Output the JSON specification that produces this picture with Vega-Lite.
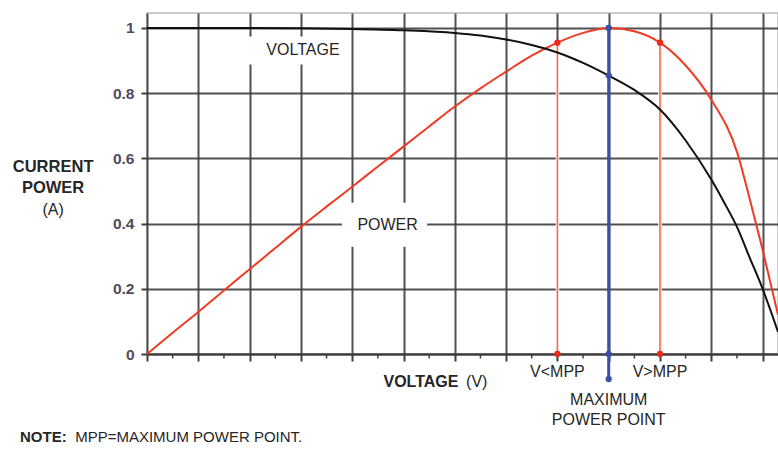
{
  "$schema": "https://vega.github.io/schema/vega-lite/v6.json",
  "autosize": {"type": "none"},
  "padding": {"left": 147, "top": 13, "right": 0, "bottom": 108},
  "width": 631,
  "height": 341,
  "background": "white",
  "config": {
    "view": {"stroke": "#bbbbbb", "strokeWidth": 1.5},
    "font": "Liberation Sans",
    "text": {"font": "Liberation Sans", "fontSize": 16, "color": "#262626"}
  },
  "datasets": {
    "curves": [
      {"series": "current", "v": 0, "y": 1.0},
      {"series": "current", "v": 1, "y": 1.0},
      {"series": "current", "v": 2, "y": 1.0},
      {"series": "current", "v": 3, "y": 0.999},
      {"series": "current", "v": 4, "y": 0.997},
      {"series": "current", "v": 5, "y": 0.993},
      {"series": "current", "v": 6, "y": 0.985},
      {"series": "current", "v": 6.5, "y": 0.977},
      {"series": "current", "v": 7, "y": 0.965},
      {"series": "current", "v": 7.5, "y": 0.948},
      {"series": "current", "v": 8, "y": 0.925},
      {"series": "current", "v": 8.5, "y": 0.893},
      {"series": "current", "v": 9, "y": 0.854},
      {"series": "current", "v": 9.5, "y": 0.81},
      {"series": "current", "v": 10, "y": 0.75},
      {"series": "current", "v": 10.5, "y": 0.655},
      {"series": "current", "v": 11, "y": 0.535},
      {"series": "current", "v": 11.25, "y": 0.465},
      {"series": "current", "v": 11.5, "y": 0.39},
      {"series": "current", "v": 11.75, "y": 0.295},
      {"series": "current", "v": 12, "y": 0.2},
      {"series": "current", "v": 12.3, "y": 0.068},
      {"series": "power", "v": 0, "y": 0.0},
      {"series": "power", "v": 0.5, "y": 0.065},
      {"series": "power", "v": 1, "y": 0.129},
      {"series": "power", "v": 1.5, "y": 0.195},
      {"series": "power", "v": 2, "y": 0.26},
      {"series": "power", "v": 2.5, "y": 0.325},
      {"series": "power", "v": 3, "y": 0.39},
      {"series": "power", "v": 3.5, "y": 0.452},
      {"series": "power", "v": 4, "y": 0.513},
      {"series": "power", "v": 4.5, "y": 0.575},
      {"series": "power", "v": 5, "y": 0.636},
      {"series": "power", "v": 5.5, "y": 0.698},
      {"series": "power", "v": 6, "y": 0.759},
      {"series": "power", "v": 6.5, "y": 0.815},
      {"series": "power", "v": 7, "y": 0.866},
      {"series": "power", "v": 7.5, "y": 0.915},
      {"series": "power", "v": 8, "y": 0.955},
      {"series": "power", "v": 8.5, "y": 0.985},
      {"series": "power", "v": 9, "y": 1.0},
      {"series": "power", "v": 9.5, "y": 0.99},
      {"series": "power", "v": 10, "y": 0.955},
      {"series": "power", "v": 10.5, "y": 0.885},
      {"series": "power", "v": 11, "y": 0.78},
      {"series": "power", "v": 11.5, "y": 0.62},
      {"series": "power", "v": 11.75, "y": 0.475},
      {"series": "power", "v": 12, "y": 0.32},
      {"series": "power", "v": 12.3, "y": 0.12}
    ],
    "minor_ticks": [
      {"v": 0.5}, {"v": 1.5}, {"v": 2.5}, {"v": 3.5}, {"v": 4.5}, {"v": 5.5},
      {"v": 6.5}, {"v": 7.5}, {"v": 8.5}, {"v": 9.5}, {"v": 10.5}, {"v": 11.5}
    ],
    "label_boxes": [
      {"v": 1.91, "v2": 3.94, "y": 0.888, "y2": 0.974},
      {"v": 3.8, "v2": 5.46, "y": 0.329, "y2": 0.464}
    ],
    "operating_lines": [
      {"point": "V<MPP", "v": 8, "y": 0.0, "y2": 0.955},
      {"point": "V>MPP", "v": 10, "y": 0.0, "y2": 0.955}
    ],
    "operating_dots": [
      {"point": "V<MPP", "v": 8, "y": 0.0},
      {"point": "V<MPP", "v": 8, "y": 0.955},
      {"point": "V>MPP", "v": 10, "y": 0.0},
      {"point": "V>MPP", "v": 10, "y": 0.955}
    ],
    "mpp_line": [
      {"point": "MPP", "v": 9, "y": -0.077, "y2": 1.0}
    ],
    "mpp_dots": [
      {"point": "MPP", "v": 9, "y": 1.0},
      {"point": "MPP", "v": 9, "y": 0.854},
      {"point": "MPP", "v": 9, "y": 0.0},
      {"point": "MPP", "v": 9, "y": -0.077}
    ],
    "labels_center": [
      {"text": "VOLTAGE", "v": 3.04, "y": 0.932},
      {"text": "POWER", "v": 4.69, "y": 0.396},
      {"text": "V<MPP", "v": 8.0, "y": -0.055},
      {"text": "V>MPP", "v": 10.0, "y": -0.055},
      {"text": "MAXIMUM", "v": 9.0, "y": -0.141},
      {"text": "POWER POINT", "v": 9.0, "y": -0.203},
      {"text": "(A)", "v": -1.83, "y": 0.442}
    ],
    "titles_center_bold": [
      {"text": "CURRENT", "v": -1.83, "y": 0.574},
      {"text": "POWER", "v": -1.83, "y": 0.51}
    ],
    "labels_left": [
      {"text": "(V)", "v": 6.22, "y": -0.086}
    ],
    "labels_left_bold": [
      {"text": "VOLTAGE", "v": 4.61, "y": -0.086}
    ],
    "note_regular": [
      {"text": "MPP=MAXIMUM POWER POINT.", "v": -1.40, "y": -0.255}
    ],
    "note_bold": [
      {"text": "NOTE:", "v": -2.476, "y": -0.255}
    ]
  },
  "layer": [
    {
      "data": {"name": "label_boxes"},
      "mark": {"type": "rect", "fill": "white", "stroke": null},
      "encoding": {
        "x": {
          "field": "v", "type": "quantitative",
          "scale": {"domain": [0, 12.3], "nice": false, "zero": false},
          "axis": {
            "values": [0, 1, 2, 3, 4, 5, 6, 7, 8, 9, 10, 11, 12],
            "title": null, "labels": false,
            "grid": true, "gridColor": "#3d3d3d", "gridWidth": 2, "gridOpacity": 0.9,
            "domain": true, "domainColor": "#3d3d3d", "domainWidth": 2,
            "ticks": true, "tickSize": 7, "tickColor": "#3d3d3d", "tickWidth": 2
          }
        },
        "x2": {"field": "v2"},
        "y": {
          "field": "y", "type": "quantitative",
          "scale": {"domain": [0, 1.046], "nice": false, "zero": false},
          "axis": {
            "values": [0, 0.2, 0.4, 0.6, 0.8, 1],
            "format": "~g",
            "title": null,
            "grid": true, "gridColor": "#3d3d3d", "gridWidth": 2, "gridOpacity": 0.9,
            "domain": false,
            "ticks": true, "tickSize": 6, "tickColor": "#3d3d3d", "tickWidth": 2,
            "labelFont": "Liberation Sans", "labelFontSize": 15.5, "labelFontWeight": "bold",
            "labelColor": "#4e4b5c", "labelPadding": 7
          }
        },
        "y2": {"field": "y2"}
      }
    },
    {
      "data": {"name": "minor_ticks"},
      "mark": {"type": "rule", "color": "#3d3d3d", "strokeWidth": 1.5},
      "encoding": {
        "x": {"field": "v", "type": "quantitative"},
        "y": {"datum": 0},
        "y2": {"datum": -0.014}
      }
    },
    {
      "data": {"name": "operating_lines"},
      "mark": {"type": "rule", "color": "white", "strokeWidth": 3.5},
      "encoding": {
        "x": {"field": "v", "type": "quantitative"},
        "y": {"field": "y", "type": "quantitative"},
        "y2": {"field": "y2"}
      }
    },
    {
      "data": {"name": "operating_lines"},
      "mark": {"type": "rule", "color": "#f26a4e", "strokeWidth": 1.6},
      "encoding": {
        "x": {"field": "v", "type": "quantitative"},
        "y": {"field": "y", "type": "quantitative"},
        "y2": {"field": "y2"}
      }
    },
    {
      "data": {"name": "curves"},
      "transform": [{"filter": "datum.series === 'power'"}],
      "mark": {"type": "line", "color": "#ef3b24", "strokeWidth": 2, "interpolate": "monotone"},
      "encoding": {
        "x": {"field": "v", "type": "quantitative"},
        "y": {"field": "y", "type": "quantitative"}
      }
    },
    {
      "data": {"name": "curves"},
      "transform": [{"filter": "datum.series === 'current'"}],
      "mark": {"type": "line", "color": "#111111", "strokeWidth": 2, "interpolate": "monotone"},
      "encoding": {
        "x": {"field": "v", "type": "quantitative"},
        "y": {"field": "y", "type": "quantitative"}
      }
    },
    {
      "data": {"name": "operating_dots"},
      "mark": {"type": "circle", "color": "#ee2a1a", "opacity": 1, "size": 40},
      "encoding": {
        "x": {"field": "v", "type": "quantitative"},
        "y": {"field": "y", "type": "quantitative"}
      }
    },
    {
      "data": {"name": "mpp_line"},
      "mark": {"type": "rule", "color": "#3a4fa6", "strokeWidth": 3},
      "encoding": {
        "x": {"field": "v", "type": "quantitative"},
        "y": {"field": "y", "type": "quantitative"},
        "y2": {"field": "y2"}
      }
    },
    {
      "data": {"name": "mpp_dots"},
      "mark": {"type": "circle", "color": "#3a4fa6", "opacity": 1, "size": 40},
      "encoding": {
        "x": {"field": "v", "type": "quantitative"},
        "y": {"field": "y", "type": "quantitative"}
      }
    },
    {
      "data": {"name": "labels_center"},
      "mark": {"type": "text", "align": "center", "baseline": "middle"},
      "encoding": {
        "x": {"field": "v", "type": "quantitative"},
        "y": {"field": "y", "type": "quantitative"},
        "text": {"field": "text"}
      }
    },
    {
      "data": {"name": "titles_center_bold"},
      "mark": {"type": "text", "align": "center", "baseline": "middle", "fontWeight": "bold", "fontSize": 16.5},
      "encoding": {
        "x": {"field": "v", "type": "quantitative"},
        "y": {"field": "y", "type": "quantitative"},
        "text": {"field": "text"}
      }
    },
    {
      "data": {"name": "labels_left"},
      "mark": {"type": "text", "align": "left", "baseline": "middle"},
      "encoding": {
        "x": {"field": "v", "type": "quantitative"},
        "y": {"field": "y", "type": "quantitative"},
        "text": {"field": "text"}
      }
    },
    {
      "data": {"name": "labels_left_bold"},
      "mark": {"type": "text", "align": "left", "baseline": "middle", "fontWeight": "bold"},
      "encoding": {
        "x": {"field": "v", "type": "quantitative"},
        "y": {"field": "y", "type": "quantitative"},
        "text": {"field": "text"}
      }
    },
    {
      "data": {"name": "note_regular"},
      "mark": {"type": "text", "align": "left", "baseline": "middle", "fontSize": 15},
      "encoding": {
        "x": {"field": "v", "type": "quantitative"},
        "y": {"field": "y", "type": "quantitative"},
        "text": {"field": "text"}
      }
    },
    {
      "data": {"name": "note_bold"},
      "mark": {"type": "text", "align": "left", "baseline": "middle", "fontSize": 15, "fontWeight": "bold"},
      "encoding": {
        "x": {"field": "v", "type": "quantitative"},
        "y": {"field": "y", "type": "quantitative"},
        "text": {"field": "text"}
      }
    }
  ]
}
